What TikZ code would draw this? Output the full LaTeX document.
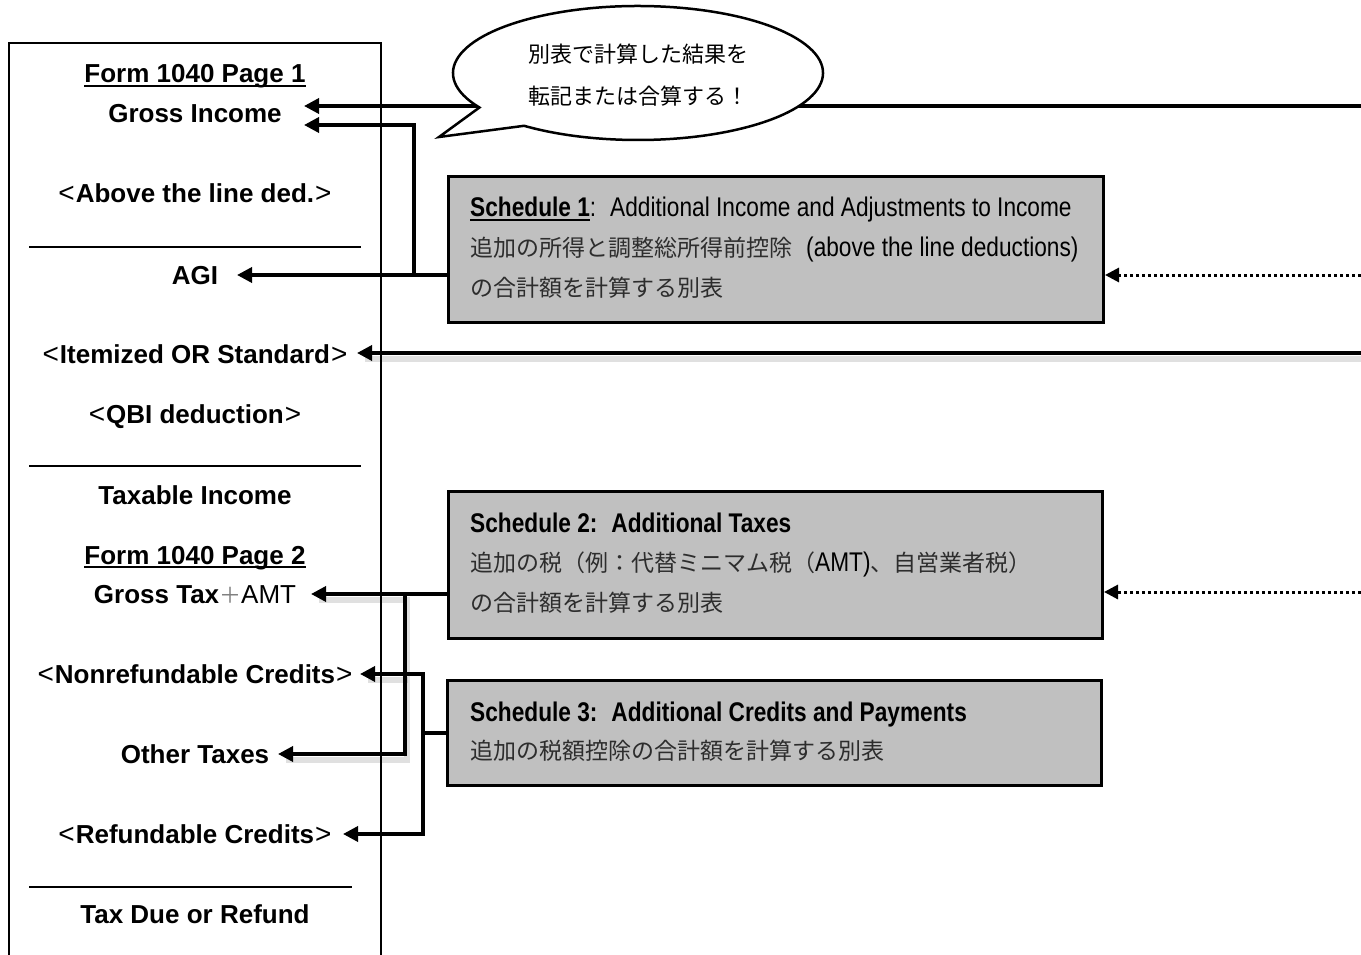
\documentclass[tikz,border=0pt]{standalone}
\usepackage{fontspec}
\setmainfont{Liberation Sans}
\newfontfamily\jp{Noto Sans CJK JP}
\newfontfamily\nar[FakeStretch=0.84]{Liberation Sans}
\usetikzlibrary{arrows.meta,calc}
\definecolor{schedgray}{RGB}{192,192,192}
\definecolor{jpgray}{RGB}{45,45,45}
\newcommand{\myul}[1]{\setbox0\hbox{#1}\rlap{\rule[-4pt]{\wd0}{1.8pt}}\box0}
\newcommand{\ltb}{{\mdseries\fontsize{28}{30}\selectfont <}\hspace{1pt}}
\newcommand{\rtb}{\hspace{1pt}{\mdseries\fontsize{28}{30}\selectfont >}}
\begin{document}
\begin{tikzpicture}[x=1pt,y=-1pt,
  lbl/.style={font=\fontsize{26}{30}\selectfont\bfseries, inner sep=0pt, anchor=base},
  sched/.style={draw=black, line width=3pt, fill=schedgray, inner sep=0pt, anchor=north west},
  sline/.style={font=\nar\fontsize{27}{30}\selectfont, inner sep=0pt, anchor=base west},
  jline/.style={font=\jp\fontsize{23}{26}\selectfont, text=jpgray, inner sep=0pt, anchor=base west},
  arr/.style={line width=3.5pt, -{Triangle[length=15pt,width=15pt]}},
  conn/.style={line width=3.5pt},
  shad/.style={line width=6pt, draw=black, draw opacity=0.12},
  darr/.style={line width=3pt, dash pattern=on 3pt off 3pt, -{Triangle[length=14pt,width=14pt]}},
  sep/.style={line width=2pt},
  bubble/.style={draw=black, line width=2.5pt, fill=white, line join=miter}]
\useasboundingbox (0,0) rectangle (1361,955);

% main form box (open at the bottom)
\draw[line width=1.5pt] (9,962) -- (9,43) -- (381,43) -- (381,962);
\draw[sep] (29,247) -- (361,247);
\draw[sep] (29,466) -- (361,466);
\draw[sep] (29,887) -- (352,887);

% labels in the form
\node[lbl] (f1)  at (195,83)  {\myul{Form 1040 Page 1}};
\node[lbl] (gi)  at (195,123) {Gross Income};
\node[lbl] (atl) at (195,203) {\ltb Above the line ded.\rtb};
\node[lbl] (agi) at (195,284) {AGI};
\node[lbl] (its) at (195,363) {\ltb Itemized OR Standard\rtb};
\node[lbl] (qbi) at (195,423) {\ltb QBI deduction\rtb};
\node[lbl] (ti)  at (195,504) {Taxable Income};
\node[lbl] (f2)  at (195,564) {\myul{Form 1040 Page 2}};
\node[lbl] (gt)  at (195,603) {Gross Tax{\jp\mdseries\fontsize{22}{24}\selectfont\color{gray}＋}{\mdseries AMT}};
\node[lbl] (nrc) at (195,683) {\ltb Nonrefundable Credits\rtb};
\node[lbl] (ot)  at (195,763) {Other Taxes};
\node[lbl] (rc)  at (195,843) {\ltb Refundable Credits\rtb};
\node[lbl] (tdr) at (195,923) {Tax Due or Refund};

% coordinates for connector ends
\coordinate (rTop) at (1361,106);
\coordinate (tGI)  at (304,106);
\coordinate (tGI2) at (304,125);
\coordinate (tAGI) at (237,275);
\coordinate (j1)   at (414,275);
\coordinate (rS1)  at (1361,275);
\coordinate (rIS)  at (1361,353);
\coordinate (tIS)  at (357,353);
\coordinate (rS2)  at (1361,592);
\coordinate (tGT)  at (311,594);
\coordinate (j2)   at (405,594);
\coordinate (tOT)  at (278,754);
\coordinate (j3)   at (423,733);
\coordinate (tNR)  at (360,674);
\coordinate (tRF)  at (343,834);

% soft shadows under some connectors
\draw[shad] ([shift={(2,6)}]rIS) -- ([shift={(8,6)}]tIS);
\draw[shad] ([shift={(8,6)}]tGT) -- ([shift={(2,6)}]j2) |- ([shift={(8,6)}]tOT);
\draw[shad] ([shift={(8,6)}]tNR) -- ([shift={(-15,6)}]j3 |- tNR);

% schedule boxes
\node[sched, minimum width=655pt, minimum height=146pt] (s1) at (447,175) {};
\node[sline] (s1a) at (470,217) {\bfseries\myul{Schedule 1}\mdseries:\hspace{14pt}Additional Income and Adjustments to Income};
\node[jline] (s1b) at (470,256) {追加の所得と調整総所得前控除\hspace{14pt}{\nar\fontsize{27}{30}\selectfont\color{black}(above the line deductions)}};
\node[jline] (s1c) at (470,296) {の合計額を計算する別表};

\node[sched, minimum width=654pt, minimum height=147pt] (s2) at (447,490) {};
\node[sline] (s2a) at (470,532) {\bfseries Schedule 2:\hspace{14pt}Additional Taxes};
\node[jline] (s2b) at (470,571) {追加の税（例：代替ミニマム税（{\nar\fontsize{27}{30}\selectfont\color{black}AMT)}、自営業者税）};
\node[jline] (s2c) at (470,611) {の合計額を計算する別表};

\node[sched, minimum width=654pt, minimum height=105pt] (s3) at (446,679) {};
\node[sline] (s3a) at (470,721) {\bfseries Schedule 3:\hspace{14pt}Additional Credits and Payments};
\node[jline] (s3b) at (470,759) {追加の税額控除の合計額を計算する別表};

% connectors
\draw[arr] (rTop) -- (tGI);
\draw[arr] (s1.west |- tAGI) -- (tAGI);
\draw[arr] (j1) |- (tGI2);
\draw[darr] (rS1) -- (s1.east |- rS1);
\draw[arr] (rIS) -- (tIS);
\draw[darr] (rS2) -- (s2.east |- rS2);
\draw[arr] (s2.west |- tGT) -- (tGT);
\draw[arr] (j2) |- (tOT);
\draw[conn] (s3.west |- j3) -- (j3);
\draw[arr] (j3) |- (tNR);
\draw[arr] (j3) |- (tRF);

% speech bubble
\draw[bubble] (439,137) -- ($(638,73)+(149:185 and 67)$)
  arc[start angle=149, end angle=488, x radius=185, y radius=67] -- cycle;
\node[font=\jp\fontsize{22}{42}\selectfont, align=center, inner sep=0pt, anchor=base] (bub) at (638,105)
  {別表で計算した結果を\\転記または合算する！};
\end{tikzpicture}
\end{document}
